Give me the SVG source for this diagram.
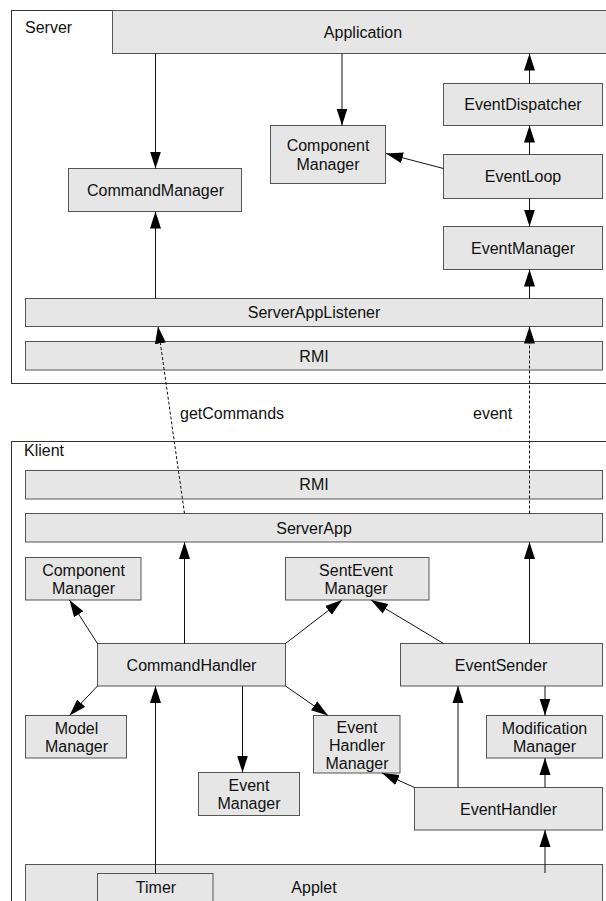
<svg xmlns="http://www.w3.org/2000/svg" width="606" height="901" viewBox="0 0 606 901">
  <style>
    .frame { fill: #ffffff; stroke: #333333; stroke-width: 1; }
    .box { fill: #e6e6e6; stroke: #555555; stroke-width: 1; }
    .lbl { font-family: "Liberation Sans", Arial, sans-serif; font-size: 16px; fill: #111111; text-anchor: middle; }
    .title { font-family: "Liberation Sans", Arial, sans-serif; font-size: 16px; fill: #111111; }
    .link { fill: none; stroke: #111111; stroke-width: 1; marker-end: url(#arrow); }
    .call { fill: none; stroke: #111111; stroke-width: 1; stroke-dasharray: 3 2; marker-end: url(#arrow); }
  </style>
  <defs>
    <marker id="arrow" markerUnits="userSpaceOnUse" markerWidth="17" markerHeight="12" refX="17" refY="6" orient="auto">
      <path d="M0,0.5 L17,6 L0,11.5 Z" fill="#000000"/>
    </marker>
  </defs>

  <rect width="606" height="901" fill="#ffffff"/>

  <!-- Server side -->
  <g id="server">
    <rect class="frame" x="11.5" y="10.5" width="610" height="373"/>
    <text class="title" x="25" y="33">Server</text>
  </g>
  <g id="application">
    <rect class="box" x="112.5" y="10.5" width="510" height="43"/>
    <text class="lbl" x="363" y="38">Application</text>
  </g>
  <g id="event-dispatcher">
    <rect class="box" x="443.5" y="83.5" width="159" height="42"/>
    <text class="lbl" x="523" y="110">EventDispatcher</text>
  </g>
  <g id="server-component-manager">
    <rect class="box" x="270.5" y="125.5" width="115" height="58"/>
    <text class="lbl" x="328" y="151">Component</text>
    <text class="lbl" x="328" y="169.5">Manager</text>
  </g>
  <g id="event-loop">
    <rect class="box" x="443.5" y="154.5" width="159" height="44"/>
    <text class="lbl" x="523" y="182">EventLoop</text>
  </g>
  <g id="command-manager">
    <rect class="box" x="68.5" y="168.5" width="173" height="43"/>
    <text class="lbl" x="155.5" y="195.5">CommandManager</text>
  </g>
  <g id="server-event-manager">
    <rect class="box" x="443.5" y="226.5" width="159" height="43"/>
    <text class="lbl" x="523" y="253.5">EventManager</text>
  </g>
  <g id="server-app-listener">
    <rect class="box" x="25.5" y="298.5" width="577" height="28"/>
    <text class="lbl" x="314" y="318">ServerAppListener</text>
  </g>
  <g id="server-rmi">
    <rect class="box" x="25.5" y="341.5" width="577" height="28.5"/>
    <text class="lbl" x="314" y="361.5">RMI</text>
  </g>

  <!-- Client side -->
  <g id="klient">
    <rect class="frame" x="11.5" y="441.5" width="610" height="480"/>
    <text class="title" x="24" y="456">Klient</text>
  </g>
  <g id="client-rmi">
    <rect class="box" x="25.5" y="470.5" width="577" height="28.5"/>
    <text class="lbl" x="314" y="490">RMI</text>
  </g>
  <g id="server-app">
    <rect class="box" x="25.5" y="513.5" width="577" height="28.5"/>
    <text class="lbl" x="314" y="533.5">ServerApp</text>
  </g>
  <g id="client-component-manager">
    <rect class="box" x="25.5" y="557.5" width="115.5" height="42.5"/>
    <text class="lbl" x="83.5" y="575.5">Component</text>
    <text class="lbl" x="83.5" y="593.5">Manager</text>
  </g>
  <g id="sent-event-manager">
    <rect class="box" x="285.5" y="557.5" width="143.5" height="42.5"/>
    <text class="lbl" x="356" y="575.5">SentEvent</text>
    <text class="lbl" x="356" y="593.5">Manager</text>
  </g>
  <g id="command-handler">
    <rect class="box" x="97.5" y="643.5" width="188" height="42.5"/>
    <text class="lbl" x="191.5" y="670.5">CommandHandler</text>
  </g>
  <g id="event-sender">
    <rect class="box" x="400.5" y="643.5" width="202" height="42.5"/>
    <text class="lbl" x="501" y="670.5">EventSender</text>
  </g>
  <g id="model-manager">
    <rect class="box" x="25.5" y="715.5" width="101" height="42.5"/>
    <text class="lbl" x="76.5" y="733.5">Model</text>
    <text class="lbl" x="76.5" y="751.5">Manager</text>
  </g>
  <g id="event-handler-manager">
    <rect class="box" x="313.5" y="715.5" width="86.5" height="57.5"/>
    <text class="lbl" x="357" y="732.5">Event</text>
    <text class="lbl" x="357" y="750.5">Handler</text>
    <text class="lbl" x="357" y="768.5">Manager</text>
  </g>
  <g id="modification-manager">
    <rect class="box" x="486.5" y="715.5" width="116" height="42.5"/>
    <text class="lbl" x="544.5" y="733.5">Modification</text>
    <text class="lbl" x="544.5" y="751.5">Manager</text>
  </g>
  <g id="client-event-manager">
    <rect class="box" x="198.5" y="772.5" width="101" height="43"/>
    <text class="lbl" x="249" y="791">Event</text>
    <text class="lbl" x="249" y="809">Manager</text>
  </g>
  <g id="event-handler">
    <rect class="box" x="414.5" y="787.5" width="188" height="42.5"/>
    <text class="lbl" x="508.5" y="814.5">EventHandler</text>
  </g>
  <g id="applet">
    <rect class="box" x="25.5" y="864.5" width="577" height="50"/>
    <text class="lbl" x="314" y="892.5">Applet</text>
  </g>
  <g id="timer">
    <rect class="box" x="97.5" y="873.5" width="115.5" height="40"/>
    <text class="lbl" x="156" y="893">Timer</text>
  </g>

  <!-- Connectors -->
  <g id="connectors">
    <line class="link" x1="155.5" y1="53.5" x2="155.5" y2="168.5"/>
    <line class="link" x1="342" y1="53.5" x2="342" y2="125.5"/>
    <line class="link" x1="529.5" y1="83.5" x2="529.5" y2="53.5"/>
    <line class="link" x1="529.5" y1="154.5" x2="529.5" y2="125.5"/>
    <line class="link" x1="443.5" y1="168.5" x2="386" y2="153.5"/>
    <line class="link" x1="529.5" y1="198.5" x2="529.5" y2="226.5"/>
    <line class="link" x1="155.5" y1="298.5" x2="155.5" y2="211.5"/>
    <line class="link" x1="529.5" y1="298.5" x2="529.5" y2="269.5"/>

    <line class="call" x1="184.5" y1="513.5" x2="158" y2="326.5"/>
    <line class="call" x1="529.5" y1="513.5" x2="529.5" y2="326.5"/>
    <text class="title" x="180" y="419">getCommands</text>
    <text class="title" x="473" y="419">event</text>

    <line class="link" x1="184.5" y1="643.5" x2="184.5" y2="542"/>
    <line class="link" x1="529.5" y1="643.5" x2="529.5" y2="542"/>
    <line class="link" x1="97.5" y1="643.5" x2="69.5" y2="600"/>
    <line class="link" x1="285.5" y1="643.5" x2="342" y2="600"/>
    <line class="link" x1="443.5" y1="643.5" x2="371" y2="600"/>
    <line class="link" x1="97.5" y1="686" x2="69.5" y2="715.5"/>
    <line class="link" x1="242.5" y1="686" x2="242.5" y2="772.5"/>
    <line class="link" x1="285.5" y1="686" x2="328" y2="715.5"/>
    <line class="link" x1="545" y1="686" x2="545" y2="715.5"/>
    <line class="link" x1="458" y1="787.5" x2="458" y2="686"/>
    <line class="link" x1="545" y1="787.5" x2="545" y2="758"/>
    <line class="link" x1="414.5" y1="787.5" x2="382" y2="773"/>
    <line class="link" x1="545" y1="873" x2="545" y2="830"/>
    <line class="link" x1="155.5" y1="873.5" x2="155.5" y2="686"/>
  </g>
</svg>
